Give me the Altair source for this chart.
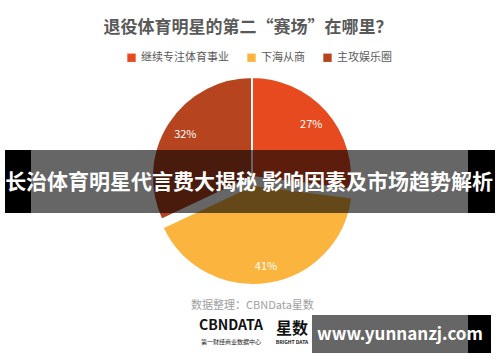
import altair as alt
import pandas as pd

categories = ["继续专注体育事业", "下海从商", "主攻娱乐圈"]
values = [27, 41, 32]
colors = ["#E64A1E", "#FBB53F", "#B5441F"]
exploded = "下海从商"

title_text = "退役体育明星的第二“赛场”在哪里？"
banner_text = "长治体育明星代言费大揭秘 影响因素及市场趋势解析"
source_text = "数据整理：CBNData星数"
watermark_text = "www.yunnanzj.com"

FONT = "Noto Sans CJK SC"

df = pd.DataFrame({"cat": categories, "val": values, "order": list(range(len(categories)))})
base = alt.Chart(df).transform_window(
    end="sum(val)", sort=[alt.SortField("order")], frame=[None, 0]
).transform_calculate(
    start="datum.end - datum.val",
    mid="datum.end - datum.val / 2",
    label="datum.val + '%'",
)

theta_scale = alt.Scale(domain=[0, 100], range=[0, 6.283185307])
color = alt.Color(
    "cat:N",
    scale=alt.Scale(domain=categories, range=colors),
    legend=alt.Legend(
        orient="none", legendX=126, legendY=52, direction="horizontal",
        title=None, symbolType="square", symbolSize=70, symbolStrokeWidth=0,
        labelFontSize=11, labelColor="#595959", labelFont=FONT,
        columnPadding=17, labelOffset=4,
    ),
)

pie_main = base.transform_filter(alt.datum.cat != exploded).mark_arc(
    outerRadius=100, stroke="white", strokeWidth=2
).encode(
    theta=alt.Theta("start:Q", scale=theta_scale, stack=None),
    theta2="end:Q",
    color=color,
    x=alt.value(252), y=alt.value(177),
)
pie_exp = base.transform_filter(alt.datum.cat == exploded).mark_arc(
    outerRadius=100, stroke="white", strokeWidth=2
).encode(
    theta=alt.Theta("start:Q", scale=theta_scale, stack=None),
    theta2="end:Q",
    color=color,
    x=alt.value(253), y=alt.value(185),
)
lab_main = base.transform_filter(alt.datum.cat != exploded).mark_text(
    fontSize=11, color="white", font=FONT
).encode(
    theta=alt.Theta("mid:Q", scale=theta_scale, stack=None),
    radius=alt.value(79), text="label:N",
    x=alt.value(252), y=alt.value(177),
)
lab_exp = base.transform_filter(alt.datum.cat == exploded).mark_text(
    fontSize=11, color="white", font=FONT
).encode(
    theta=alt.Theta("mid:Q", scale=theta_scale, stack=None),
    radius=alt.value(83), text="label:N",
    x=alt.value(253), y=alt.value(185),
)

one = alt.Data(values=[{"a": 1}])

def txt(t, x, y, size, color, weight="normal", align="center"):
    return alt.Chart(one).mark_text(
        text=t, fontSize=size, color=color, fontWeight=weight, font=FONT, align=align, baseline="middle"
    ).encode(x=alt.value(x), y=alt.value(y))

def box(x1, x2, y1, y2, color, opacity=1.0):
    return alt.Chart(one).mark_rect(color=color, opacity=opacity).encode(
        x=alt.value(x1), x2=alt.value(x2), y=alt.value(y1), y2=alt.value(y2)
    )

title = txt(title_text, 248, 28, 17, "#595959", "bold")
banner = [
    box(5, 31, 150, 213, "black"),
    box(468, 495, 150, 213, "black"),
    box(31, 468, 150, 213, "black", 0.6),
    txt(banner_text, 249, 183, 21, "white", "bold"),
]
source = txt(source_text, 191, 306, 11, "#a0a0a0", align="left")
logo = [
    txt("CBNDATA", 231, 326, 14, "#111111", "bold"),
    txt("第一财经商业数据中心", 231, 342, 6, "#222222"),
    txt("星数", 292, 329, 16, "#111111", "bold"),
    txt("BRIGHT DATA", 292, 342, 5, "#222222", "bold"),
]
wm = [
    box(312, 468, 315, 353, "#666666"),
    box(468, 491, 315, 353, "black"),
    txt(watermark_text, 400, 335, 17, "white", "bold"),
]

chart = alt.layer(
    pie_main, pie_exp, lab_main, lab_exp, title, *banner, source, *logo, *wm
).properties(
    width=500, height=362, autosize=alt.AutoSizeParams(type="none"), padding=0,
    background="white",
).configure_view(stroke=None)

chart.save("out.html", embed_options={"renderer": "svg", "actions": False})
